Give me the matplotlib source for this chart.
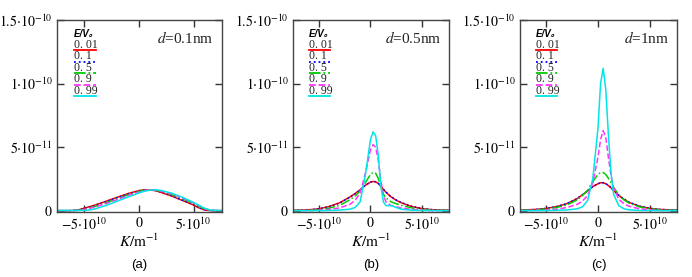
import numpy as np
import matplotlib
matplotlib.use('Agg')
import matplotlib.pyplot as plt

plt.rcParams['font.family'] = ['Liberation Serif', 'DejaVu Serif']
plt.rcParams['mathtext.fontset'] = 'stix'

# wave vector grids (units of 1e10 m^-1)
K_a = np.array([-7.5, -6.5, -6, -5.5, -5, -4.5, -4, -3, -2, -1, 0, 0.5, 1, 1.5, 2, 3, 4, 5, 5.5, 6, 6.5, 7, 7.6])
K_bc = np.array([-7.5, -6, -5, -4, -3, -2, -1.5, -1, -0.5, 0, 0.25, 0.5, 0.75, 1, 1.25, 1.5, 2, 2.5, 3, 4, 5, 6, 7.6])

# curves (units of 1e-11), E/V0 = 0.01, 0.1, 0.5, 0.9, 0.99
red_a = [0, 0, 0.02, 0.08, 0.2, 0.32, 0.45, 0.75, 1.05, 1.35, 1.58, 1.65, 1.63, 1.58, 1.45, 1.15, 0.8, 0.45, 0.22, 0.06, 0.01, 0, 0]
blue_a = [0, 0, 0.02, 0.07, 0.18, 0.3, 0.43, 0.73, 1.03, 1.33, 1.57, 1.65, 1.64, 1.59, 1.47, 1.18, 0.83, 0.48, 0.25, 0.08, 0.02, 0, 0]
green_a = [0.01, 0.01, 0.01, 0.04, 0.12, 0.23, 0.35, 0.63, 0.93, 1.24, 1.52, 1.62, 1.65, 1.62, 1.53, 1.27, 0.93, 0.57, 0.34, 0.13, 0.03, 0.01, 0.01]
mag_a = [0.01, 0.01, 0.01, 0.03, 0.09, 0.19, 0.3, 0.57, 0.87, 1.18, 1.47, 1.59, 1.65, 1.63, 1.56, 1.32, 0.99, 0.62, 0.4, 0.17, 0.05, 0.01, 0.01]
cyan_a = [0.02, 0.02, 0.02, 0.02, 0.03, 0.06, 0.15, 0.42, 0.75, 1.08, 1.4, 1.53, 1.62, 1.65, 1.6, 1.38, 1.05, 0.65, 0.42, 0.2, 0.06, 0.02, 0.02]

red_b = [0.03, 0.07, 0.15, 0.33, 0.62, 1.08, 1.35, 1.65, 2.0, 2.25, 2.3, 2.27, 2.15, 1.92, 1.68, 1.45, 1.08, 0.82, 0.62, 0.33, 0.16, 0.08, 0.03]
blue_b = [0.03, 0.07, 0.15, 0.33, 0.6, 1.05, 1.32, 1.63, 2.0, 2.25, 2.32, 2.28, 2.15, 1.93, 1.7, 1.47, 1.1, 0.84, 0.64, 0.35, 0.17, 0.08, 0.03]
green_b = [0.02, 0.04, 0.08, 0.2, 0.42, 0.85, 1.15, 1.55, 2.2, 2.85, 3.0, 2.95, 2.55, 1.85, 1.3, 1.0, 0.7, 0.55, 0.42, 0.22, 0.1, 0.05, 0.02]
mag_b = [0.01, 0.02, 0.04, 0.1, 0.22, 0.5, 0.8, 1.4, 2.9, 4.8, 5.2, 5.0, 4.0, 2.4, 1.2, 0.7, 0.4, 0.3, 0.22, 0.1, 0.05, 0.02, 0.01]
cyan_b = [0.0, 0.0, 0.01, 0.02, 0.05, 0.12, 0.25, 0.7, 2.8, 5.6, 6.2, 5.9, 4.4, 2.0, 0.7, 0.4, 0.4, 0.25, 0.12, 0.04, 0.02, 0.01, 0.0]

red_c = [0.05, 0.1, 0.18, 0.32, 0.55, 0.95, 1.25, 1.55, 1.9, 2.12, 2.2, 2.2, 2.12, 1.98, 1.8, 1.6, 1.2, 0.9, 0.65, 0.35, 0.18, 0.1, 0.05]
blue_c = [0.05, 0.1, 0.18, 0.33, 0.56, 0.96, 1.26, 1.56, 1.9, 2.12, 2.2, 2.2, 2.13, 2.0, 1.82, 1.62, 1.22, 0.92, 0.67, 0.36, 0.19, 0.1, 0.05]
green_c = [0.03, 0.07, 0.13, 0.25, 0.45, 0.85, 1.2, 1.6, 2.3, 2.85, 3.0, 3.0, 2.85, 2.55, 2.2, 1.85, 1.25, 0.85, 0.6, 0.3, 0.15, 0.07, 0.03]
mag_c = [0.01, 0.03, 0.06, 0.12, 0.25, 0.5, 0.75, 1.2, 2.2, 4.2, 5.6, 6.3, 5.8, 4.2, 2.8, 1.8, 0.9, 0.55, 0.35, 0.15, 0.07, 0.03, 0.01]
cyan_c = [0, 0, 0.01, 0.03, 0.06, 0.15, 0.3, 0.8, 2.5, 6.5, 10.0, 11.2, 9.5, 6.0, 3.0, 1.3, 0.4, 0.15, 0.07, 0.02, 0.01, 0, 0]

ratios = ['0. 01', '0. 1', '0. 5', '0. 9', '0. 99']
colors = ['#ff0000', '#0000ff', '#00cc00', '#ff33ff', '#00e5e5']
styles = ['-', ':', '-.', '--', '-']

panels = [
    (K_a, [red_a, blue_a, green_a, mag_a, cyan_a], '0.1', '(a)', 57, 165),
    (K_bc, [red_b, blue_b, green_b, mag_b, cyan_b], '0.5', '(b)', 293, 156),
    (K_bc, [red_c, blue_c, green_c, mag_c, cyan_c], '1', '(c)', 520, 157),
]

W, H = 692, 277
fig = plt.figure(figsize=(W / 100, H / 100), dpi=100)

for K, curves, d, tag, left, width in panels:
    ax = fig.add_axes([left / W, (H - 212) / H, width / W, 192 / H])
    for y, c, ls in zip(curves, colors, styles):
        ax.plot(K * 1e10, np.array(y) * 1e-11, color=c, ls=ls, lw=1.1)
    ax.set_xlim(-7.5e10, 7.6e10)
    ax.set_ylim(-0.1e-11, 15e-11)
    ax.set_xticks([-5e10, 0, 5e10])
    ax.set_xticklabels([r'$-5{\cdot}10^{10}$', r'$0$', r'$5{\cdot}10^{10}$'])
    ax.set_yticks([0, 5e-11, 1e-10, 1.5e-10])
    ax.set_yticklabels([r'$0$', r'$5{\cdot}10^{-11}$', r'$1{\cdot}10^{-10}$', r'$1.5{\cdot}10^{-10}$'])
    ax.tick_params(direction='in', length=5, width=1, top=True, right=True,
                   labelsize=10, color='#333333', pad=3)
    for s in ax.spines.values():
        s.set_color('#444444')
        s.set_linewidth(1)
    ax.set_xlabel(r'$K/\mathrm{m}^{-1}$', fontsize=11, labelpad=0)
    ax.text(0.5, -0.245, tag, transform=ax.transAxes, ha='center', va='top',
            fontsize=9.5, family='Liberation Sans')
    ax.text(0.95, 0.905, r'$d$=' + d + 'nm', transform=ax.transAxes,
            ha='right', va='center', fontsize=11, color='#222222')

    # hand-drawn legend in the upper left
    ax.text(0.1, 0.925, 'E/V\u2080', transform=ax.transAxes,
            ha='left', va='center', fontsize=7, fontstyle='italic', fontweight='bold',
            family=['Liberation Sans', 'DejaVu Sans'])
    for i, (lab, c, ls) in enumerate(zip(ratios, colors, styles)):
        yy = 0.872 - i * 0.06
        ax.text(0.1, yy, lab, transform=ax.transAxes, ha='left', va='center',
                fontsize=8.5, color='#222222')
        ax.plot([0.1, 0.235], [yy - 0.03, yy - 0.03], transform=ax.transAxes,
                color=c, ls=ls, lw=1.3, clip_on=False)

fig.savefig('out.png', dpi=100)
